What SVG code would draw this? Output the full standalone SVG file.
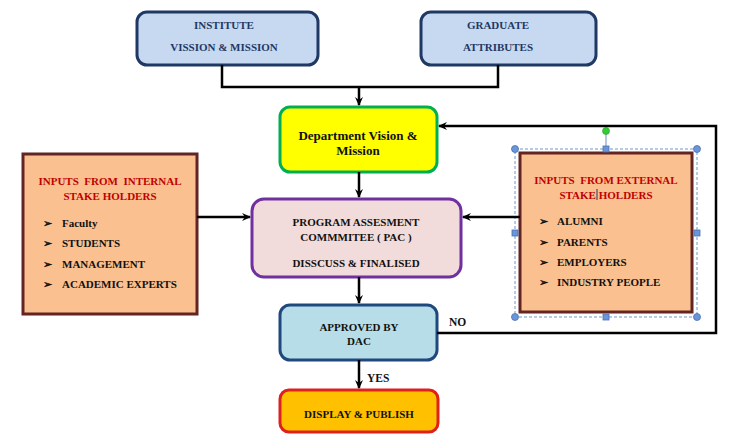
<svg xmlns="http://www.w3.org/2000/svg" width="741" height="447" viewBox="0 0 741 447">
<style>
text{font-family:"Liberation Serif","DejaVu Serif",serif;font-weight:bold;white-space:pre;}
.c{text-anchor:middle;}
.navy{fill:#1f3864;font-size:11px;}
.blk{fill:#111;font-size:11px;}
.red{fill:#c00000;font-size:11px;}
.conn{fill:none;stroke:#000;stroke-width:2.5;}
.sel{fill:none;stroke:#4a7ebb;stroke-width:0.8;stroke-dasharray:3,2;}
.hc{fill:#6a95d8;stroke:#4a72b0;stroke-width:0.8;}
</style>
<defs>
<marker id="ah" markerWidth="10" markerHeight="10" refX="8" refY="5" orient="auto" markerUnits="userSpaceOnUse">
<path d="M0,1 L9,5 L0,9 L3,5 z" fill="#000"/>
</marker>
</defs>
<rect width="741" height="447" fill="#fff"/>
<g id="institute">
<rect x="137" y="12" width="181" height="53" rx="10" fill="#c6d9f1" stroke="#1f3864" stroke-width="3"/>
<text class="c navy" x="224" y="29">INSTITUTE</text>
<text class="c navy" x="224" y="51">VISSION &amp; MISSION</text>
</g>
<g id="graduate">
<rect x="421" y="12" width="175" height="53" rx="10" fill="#c6d9f1" stroke="#1f3864" stroke-width="3"/>
<text class="c navy" x="498" y="29">GRADUATE</text>
<text class="c navy" x="498" y="51">ATTRIBUTES</text>
</g>
<g id="department">
<rect x="280" y="107" width="157" height="65" rx="10" fill="#ffff00" stroke="#00b050" stroke-width="3"/>
<text class="c" x="358" y="140" style="font-size:13px;fill:#111">Department Vision &amp;</text>
<text class="c" x="358" y="155" style="font-size:13px;fill:#111">Mission</text>
</g>
<g id="internal">
<rect x="23" y="154" width="174" height="160" fill="#fac090" stroke="#632523" stroke-width="3"/>
<text class="c red" x="110" y="185" xml:space="preserve">INPUTS  FROM  INTERNAL</text>
<text class="c red" x="110" y="200">STAKE HOLDERS</text>
<text class="blk" x="43" y="227">➢</text><text class="blk" x="62" y="227">Faculty</text>
<text class="blk" x="43" y="247">➢</text><text class="blk" x="62" y="247">STUDENTS</text>
<text class="blk" x="43" y="268">➢</text><text class="blk" x="62" y="268">MANAGEMENT</text>
<text class="blk" x="43" y="288">➢</text><text class="blk" x="62" y="288">ACADEMIC EXPERTS</text>
</g>
<g id="external">
<rect x="520" y="153" width="172" height="159" fill="#fac090" stroke="#632523" stroke-width="3"/>
<text class="c red" x="606" y="184" xml:space="preserve">INPUTS  FROM EXTERNAL</text>
<text class="c red" x="606" y="199">STAKE HOLDERS</text>
<line x1="597" y1="189" x2="597" y2="200" stroke="#1f3864" stroke-width="1"/>
<text class="blk" x="539" y="225">➢</text><text class="blk" x="557" y="225">ALUMNI</text>
<text class="blk" x="539" y="246">➢</text><text class="blk" x="557" y="246">PARENTS</text>
<text class="blk" x="539" y="266">➢</text><text class="blk" x="557" y="266">EMPLOYERS</text>
<text class="blk" x="539" y="286">➢</text><text class="blk" x="557" y="286">INDUSTRY PEOPLE</text>
<rect class="sel" x="515" y="149" width="182" height="168"/>
<line x1="606" y1="131" x2="606" y2="149" stroke="#4a72b0" stroke-width="0.8"/>
<circle cx="606" cy="131" r="3.5" fill="#33cc33" stroke="#2a9a2a" stroke-width="0.6"/>
<circle class="hc" cx="515" cy="149" r="3.5"/>
<circle class="hc" cx="697" cy="149" r="3.5"/>
<circle class="hc" cx="515" cy="317" r="3.5"/>
<circle class="hc" cx="697" cy="317" r="3.5"/>
<rect class="hc" x="603" y="146" width="6" height="6"/>
<rect class="hc" x="603" y="314" width="6" height="6"/>
<rect class="hc" x="512" y="230" width="6" height="6"/>
<rect class="hc" x="694" y="230" width="6" height="6"/>
</g>
<g id="pac">
<rect x="252" y="199" width="209" height="78" rx="12" fill="#f2dcdb" stroke="#7030a0" stroke-width="3"/>
<text class="c blk" x="356" y="226">PROGRAM ASSESMENT</text>
<text class="c blk" x="356" y="241">COMMMITEE ( PAC )</text>
<text class="c blk" x="356" y="267">DISSCUSS &amp; FINALISED</text>
</g>
<g id="approved">
<rect x="280" y="305" width="157" height="55" rx="10" fill="#b7dde8" stroke="#1f497d" stroke-width="3"/>
<text class="c blk" x="359" y="331">APPROVED BY</text>
<text class="c blk" x="359" y="345">DAC</text>
</g>
<g id="display">
<rect x="280" y="390" width="158" height="42" rx="9" fill="#ffc000" stroke="#e0201c" stroke-width="3"/>
<text class="c blk" x="359" y="418">DISPLAY &amp; PUBLISH</text>
</g>
<g id="connectors">
<path class="conn" d="M222,65 V87 H498 V65"/>
<path class="conn" d="M359,87 V105" marker-end="url(#ah)"/>
<path class="conn" d="M359,172 V197" marker-end="url(#ah)"/>
<path class="conn" d="M197,217 H250" marker-end="url(#ah)"/>
<path class="conn" d="M520,217 H463" marker-end="url(#ah)"/>
<path class="conn" d="M359,277 V303" marker-end="url(#ah)"/>
<path class="conn" d="M437,333 H716 V126 H439" marker-end="url(#ah)"/>
<path class="conn" d="M359,360 V388" marker-end="url(#ah)"/>
<text class="blk" x="449" y="326" style="font-size:11.5px">NO</text>
<text class="blk" x="367" y="382" style="font-size:11.5px">YES</text>
</g>
</svg>
